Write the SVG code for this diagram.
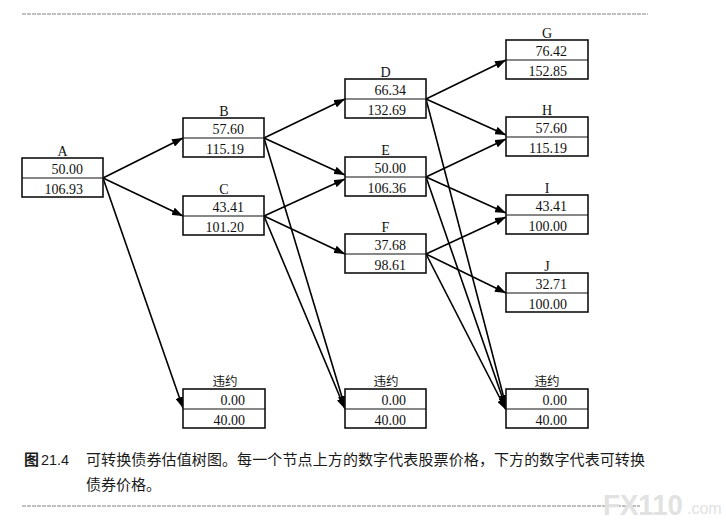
<svg xmlns="http://www.w3.org/2000/svg" width="726" height="528" viewBox="0 0 726 528">
<style>
.box{fill:#fff;stroke:#111;stroke-width:1.6}
.div{stroke:#111;stroke-width:1.1}
.num{font-family:"Liberation Serif","Times New Roman",serif;font-size:14px;fill:#111;text-anchor:end}
.lbl{font-family:"Liberation Serif","Times New Roman",serif;font-size:14px;fill:#111;text-anchor:middle}
.cjk{font-family:"Liberation Serif","Noto Sans CJK SC",serif;font-size:12.5px;fill:#111;text-anchor:middle}
.edge{stroke:#000;stroke-width:1.6;fill:none;marker-end:url(#ah)}
.cap{font-family:"Noto Sans CJK SC",sans-serif;font-size:15px;fill:#1a1a1a}
.rule{stroke:#c0c0c0;stroke-width:2;stroke-dasharray:4 1}
</style>
<defs>
<marker id="ah" markerUnits="userSpaceOnUse" markerWidth="11" markerHeight="8" refX="11" refY="4" orient="auto">
<path d="M0,0 L11,4 L0,8 z" fill="#000"/>
</marker>
</defs>
<rect width="726" height="528" fill="#fff"/>
<line class="rule" x1="22" y1="14" x2="648" y2="14"/>
<line class="rule" x1="22" y1="506" x2="640" y2="506"/>

<g id="connectors">
<line class="edge" x1="103" y1="178" x2="183" y2="138"/>
<line class="edge" x1="103" y1="178" x2="183" y2="216"/>
<line class="edge" x1="103" y1="178" x2="183" y2="408"/>
<line class="edge" x1="264" y1="138" x2="345" y2="99"/>
<line class="edge" x1="264" y1="138" x2="345" y2="175"/>
<line class="edge" x1="264" y1="138" x2="345" y2="407"/>
<line class="edge" x1="264" y1="216" x2="345" y2="179"/>
<line class="edge" x1="264" y1="216" x2="345" y2="254"/>
<line class="edge" x1="264" y1="216" x2="345" y2="409"/>
<line class="edge" x1="426" y1="99" x2="506" y2="60"/>
<line class="edge" x1="426" y1="99" x2="506" y2="135"/>
<line class="edge" x1="426" y1="99" x2="506" y2="406"/>
<line class="edge" x1="426" y1="177" x2="506" y2="139"/>
<line class="edge" x1="426" y1="177" x2="506" y2="213"/>
<line class="edge" x1="426" y1="177" x2="506" y2="408"/>
<line class="edge" x1="426" y1="254" x2="506" y2="217"/>
<line class="edge" x1="426" y1="254" x2="506" y2="293"/>
<line class="edge" x1="426" y1="254" x2="506" y2="410"/>
</g>

<g id="A">
<text class="lbl" x="62.5" y="155.5">A</text>
<rect class="box" x="22" y="158" width="81" height="39"/>
<line class="div" x1="22" y1="178" x2="103" y2="178"/>
<text class="num" x="83" y="173.5">50.00</text>
<text class="num" x="83" y="193.5">106.93</text>
</g>
<g id="B">
<text class="lbl" x="224" y="115.5">B</text>
<rect class="box" x="183" y="118" width="81" height="39"/>
<line class="div" x1="183" y1="138" x2="264" y2="138"/>
<text class="num" x="244" y="133.5">57.60</text>
<text class="num" x="244" y="153.5">115.19</text>
</g>
<g id="C">
<text class="lbl" x="224" y="193.5">C</text>
<rect class="box" x="183" y="196" width="81" height="39"/>
<line class="div" x1="183" y1="216" x2="264" y2="216"/>
<text class="num" x="244" y="211.5">43.41</text>
<text class="num" x="244" y="231.5">101.20</text>
</g>
<g id="D">
<text class="lbl" x="385.5" y="76.5">D</text>
<rect class="box" x="345" y="79" width="81" height="39"/>
<line class="div" x1="345" y1="99" x2="426" y2="99"/>
<text class="num" x="406" y="94.5">66.34</text>
<text class="num" x="406" y="114.5">132.69</text>
</g>
<g id="E">
<text class="lbl" x="385.5" y="154.5">E</text>
<rect class="box" x="345" y="157" width="81" height="39"/>
<line class="div" x1="345" y1="177" x2="426" y2="177"/>
<text class="num" x="406" y="172.5">50.00</text>
<text class="num" x="406" y="192.5">106.36</text>
</g>
<g id="F">
<text class="lbl" x="385.5" y="231.5">F</text>
<rect class="box" x="345" y="234" width="81" height="39"/>
<line class="div" x1="345" y1="254" x2="426" y2="254"/>
<text class="num" x="406" y="249.5">37.68</text>
<text class="num" x="406" y="269.5">98.61</text>
</g>
<g id="G">
<text class="lbl" x="547" y="37.5">G</text>
<rect class="box" x="506" y="40" width="82" height="39"/>
<line class="div" x1="506" y1="60" x2="588" y2="60"/>
<text class="num" x="567" y="55.5">76.42</text>
<text class="num" x="567" y="75.5">152.85</text>
</g>
<g id="H">
<text class="lbl" x="547" y="114.5">H</text>
<rect class="box" x="506" y="117" width="82" height="39"/>
<line class="div" x1="506" y1="137" x2="588" y2="137"/>
<text class="num" x="567" y="132.5">57.60</text>
<text class="num" x="567" y="152.5">115.19</text>
</g>
<g id="I">
<text class="lbl" x="547" y="192.5">I</text>
<rect class="box" x="506" y="195" width="82" height="39"/>
<line class="div" x1="506" y1="215" x2="588" y2="215"/>
<text class="num" x="567" y="210.5">43.41</text>
<text class="num" x="567" y="230.5">100.00</text>
</g>
<g id="J">
<text class="lbl" x="547" y="270.5">J</text>
<rect class="box" x="506" y="273" width="82" height="39"/>
<line class="div" x1="506" y1="293" x2="588" y2="293"/>
<text class="num" x="567" y="288.5">32.71</text>
<text class="num" x="567" y="308.5">100.00</text>
</g>
<g id="default1">
<text class="cjk" x="225" y="386">违约</text>
<rect class="box" x="183" y="389" width="82" height="39"/>
<line class="div" x1="183" y1="409" x2="265" y2="409"/>
<text class="num" x="245" y="404.5">0.00</text>
<text class="num" x="245" y="424.5">40.00</text>
</g>
<g id="default2">
<text class="cjk" x="386" y="386">违约</text>
<rect class="box" x="345" y="389" width="81" height="39"/>
<line class="div" x1="345" y1="409" x2="426" y2="409"/>
<text class="num" x="406" y="404.5">0.00</text>
<text class="num" x="406" y="424.5">40.00</text>
</g>
<g id="default3">
<text class="cjk" x="547" y="386">违约</text>
<rect class="box" x="506" y="389" width="82" height="39"/>
<line class="div" x1="506" y1="409" x2="588" y2="409"/>
<text class="num" x="567" y="404.5">0.00</text>
<text class="num" x="567" y="424.5">40.00</text>
</g>

<g id="caption">
<text class="cap" x="24" y="464.5" font-size="11px" font-weight="bold">图</text>
<text x="41" y="465" font-family="'Liberation Sans',sans-serif" font-size="15px" fill="#1a1a1a" textLength="28" lengthAdjust="spacingAndGlyphs">21.4</text>
<text class="cap" x="86" y="465" textLength="559" lengthAdjust="spacing">可转换债券估值树图。每一个节点上方的数字代表股票价格，下方的数字代表可转换</text>
<text class="cap" x="86" y="490">债券价格。</text>
</g>
<text x="603" y="515" font-family="'Liberation Sans',sans-serif" font-size="30px" font-weight="bold" fill="#e2e2e2" textLength="80" lengthAdjust="spacingAndGlyphs">FX110</text>
<text x="687" y="514" font-family="'Liberation Sans',sans-serif" font-size="16px" fill="#e2e2e2">.com</text>
</svg>
